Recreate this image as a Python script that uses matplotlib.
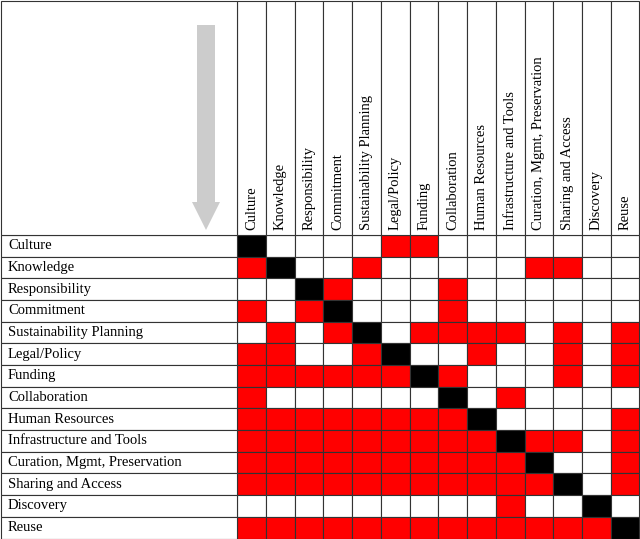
import matplotlib.pyplot as plt
import numpy as np
from matplotlib.patches import Rectangle, FancyArrow

labels = ["Culture", "Knowledge", "Responsibility", "Commitment", "Sustainability Planning",
          "Legal/Policy", "Funding", "Collaboration", "Human Resources",
          "Infrastructure and Tools", "Curation, Mgmt, Preservation",
          "Sharing and Access", "Discovery", "Reuse"]

# 1 = related (red), 2 = diagonal (black)
matrix = [
    [2,0,0,0,0,1,1,0,0,0,0,0,0,0],
    [1,2,0,0,1,0,0,0,0,0,1,1,0,0],
    [0,0,2,1,0,0,0,1,0,0,0,0,0,0],
    [1,0,1,2,0,0,0,1,0,0,0,0,0,0],
    [0,1,0,1,2,0,1,1,1,1,0,1,0,1],
    [1,1,0,0,1,2,0,0,1,0,0,1,0,1],
    [1,1,1,1,1,1,2,1,0,0,0,1,0,1],
    [1,0,0,0,0,0,0,2,0,1,0,0,0,0],
    [1,1,1,1,1,1,1,1,2,0,0,0,0,1],
    [1,1,1,1,1,1,1,1,1,2,1,1,0,1],
    [1,1,1,1,1,1,1,1,1,1,2,0,0,1],
    [1,1,1,1,1,1,1,1,1,1,1,2,0,1],
    [0,0,0,0,0,0,0,0,0,1,0,0,2,0],
    [1,1,1,1,1,1,1,1,1,1,1,1,1,2],
]

W, H = 640, 539
x0, y0 = 237.3, 235.0
cw = (639.5 - x0) / 14
ch = (538.5 - y0) / 14
colors = {0: "white", 1: "#ff0000", 2: "black"}

fig = plt.figure(figsize=(6.4, 5.39), dpi=100)
ax = fig.add_axes([0, 0, 1, 1])
ax.set_xlim(0, W)
ax.set_ylim(H, 0)
ax.axis("off")

font = "Liberation Serif"
n = len(labels)
for i in range(n):
    for j in range(n):
        ax.add_patch(Rectangle((x0 + j * cw, y0 + i * ch), cw, ch,
                               facecolor=colors[matrix[i][j]], edgecolor="#333333", lw=0.8))
    # row label cell
    ax.add_patch(Rectangle((0.5, y0 + i * ch), x0 - 0.5, ch, facecolor="white",
                           edgecolor="#333333", lw=0.8))
    ax.text(8, y0 + (i + 0.5) * ch, labels[i], ha="left", va="center",
            fontsize=10.5, family=font)
    # column header
    ax.add_patch(Rectangle((x0 + i * cw, 0.5), cw, y0 - 0.5, facecolor="white",
                           edgecolor="#333333", lw=0.8))
    ax.text(x0 + (i + 0.5) * cw, y0 - 5, labels[i], ha="center", va="bottom",
            rotation=90, fontsize=10.5, family=font)

ax.add_patch(Rectangle((0.5, 0.5), x0 - 0.5, y0 - 0.5, facecolor="white",
                       edgecolor="#333333", lw=0.8))
ax.add_patch(FancyArrow(206, 25, 0, 205, width=18, head_width=28, head_length=28,
                        length_includes_head=True, color="#cccccc", lw=0))

fig.savefig("out.png", dpi=100)
